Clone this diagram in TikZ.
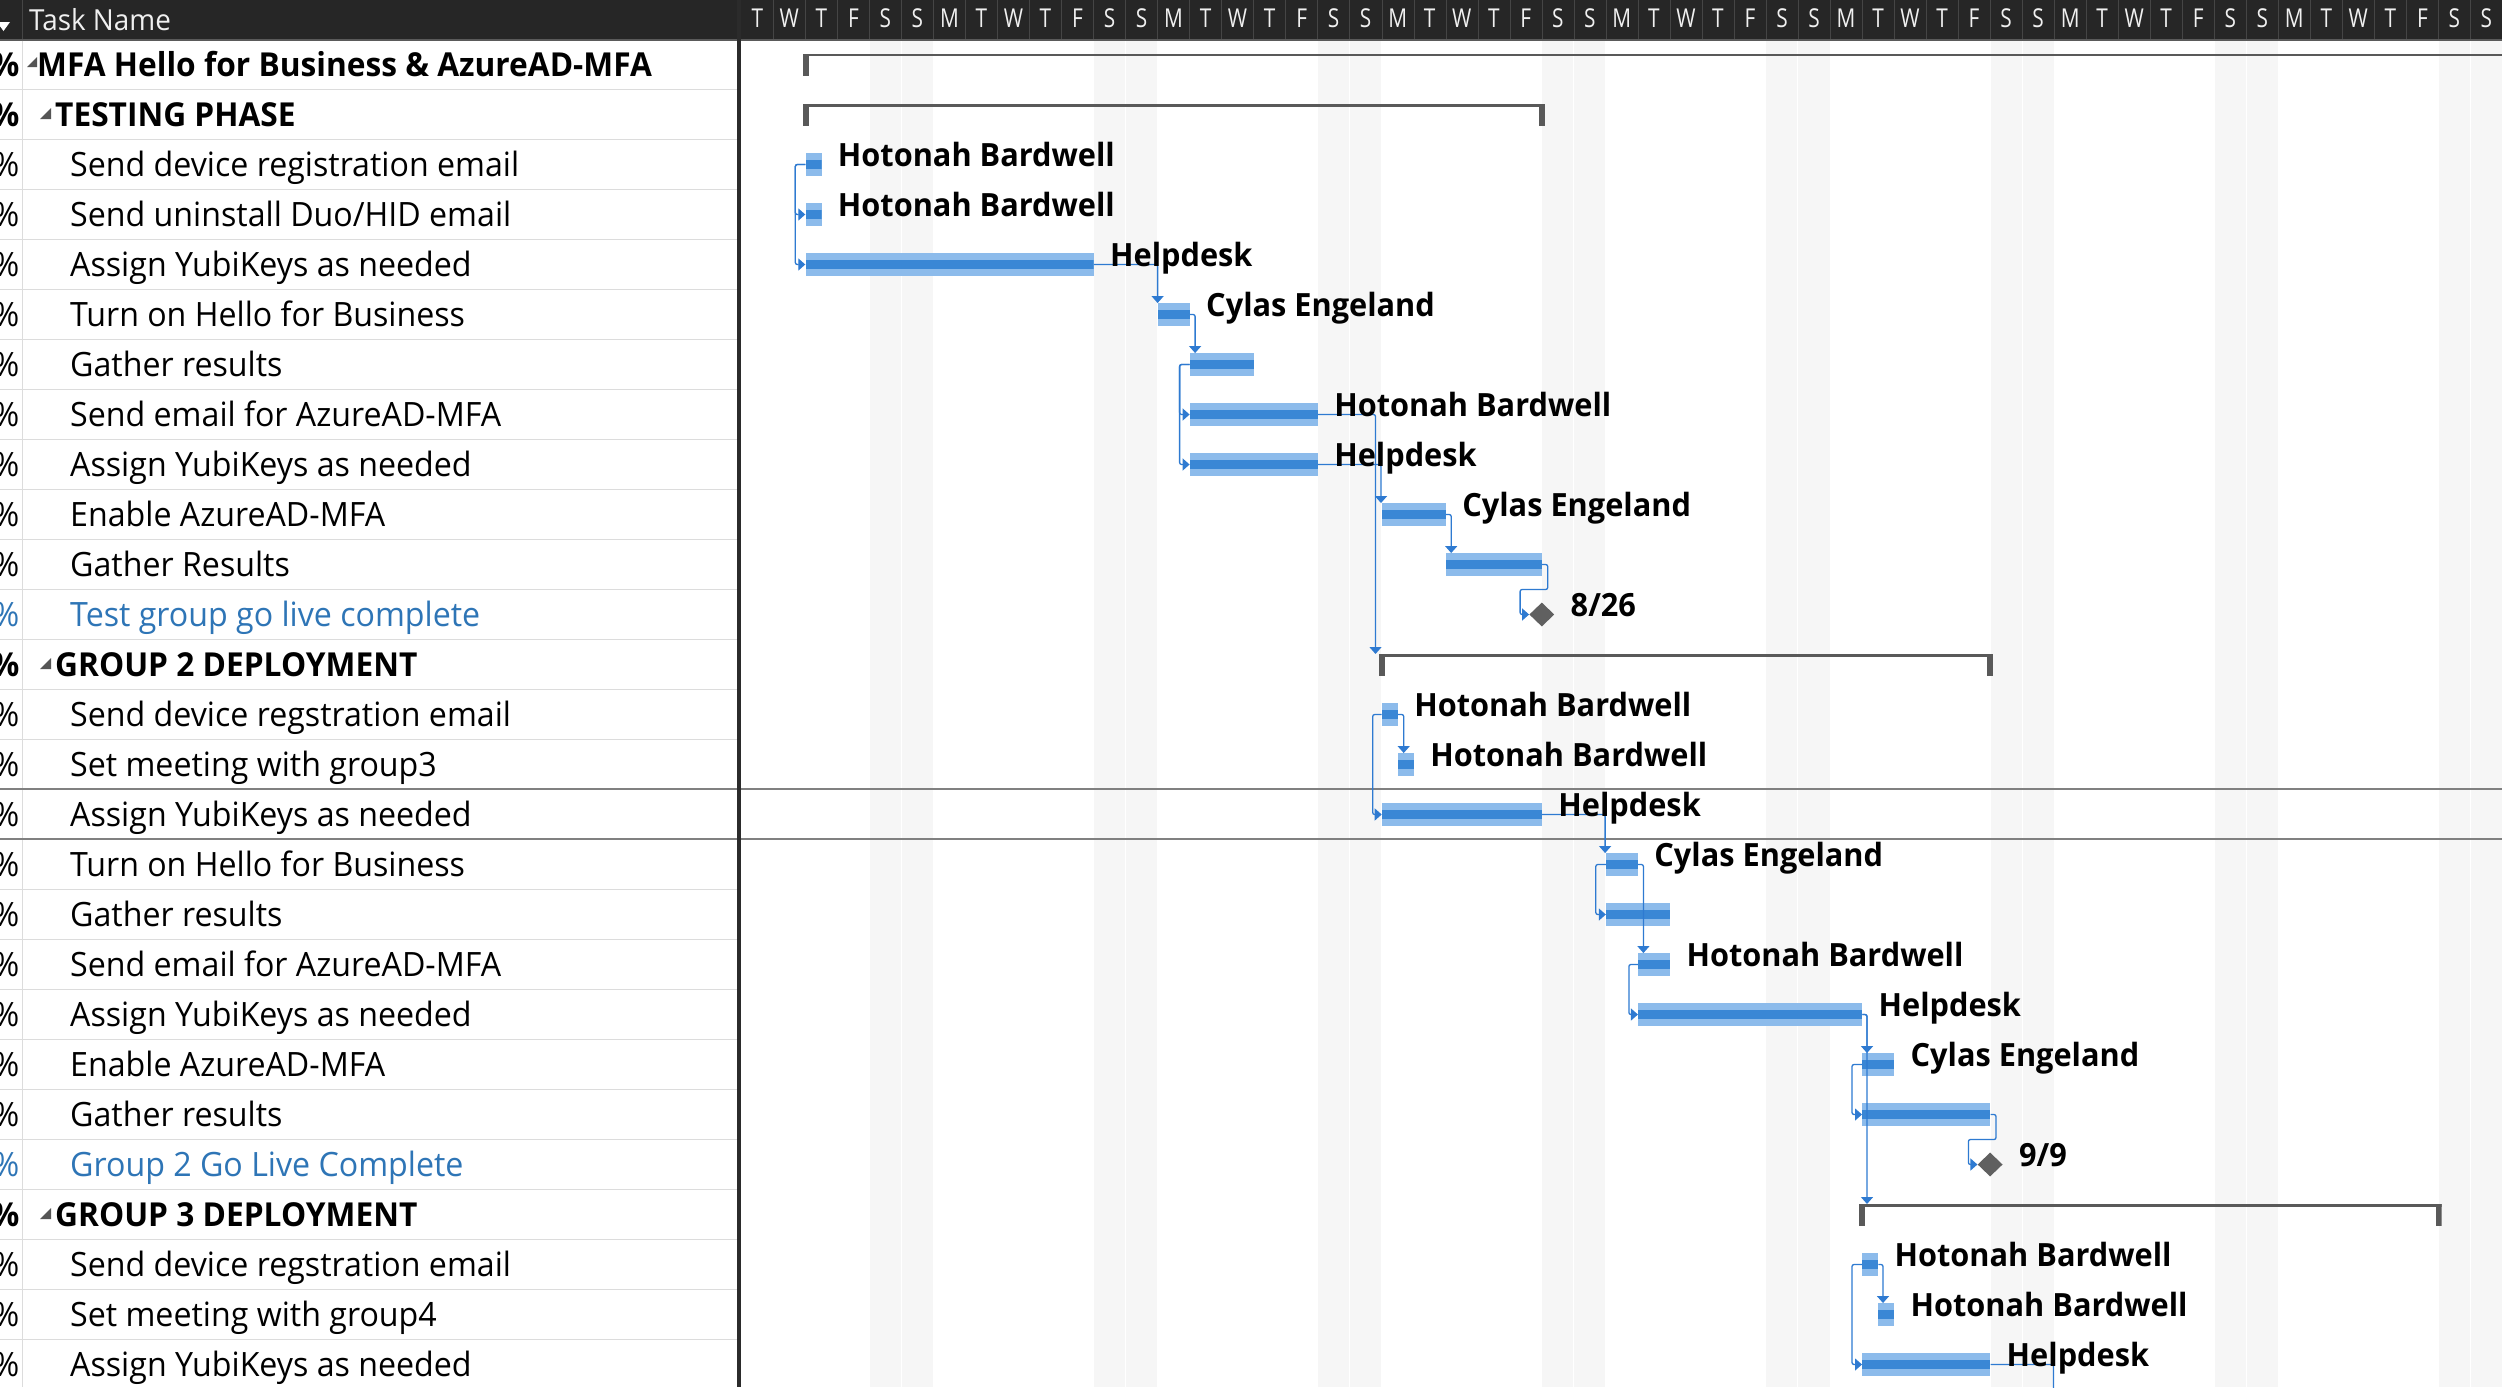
\documentclass[tikz,border=0pt]{standalone}
\usepackage{fontspec}
\setmainfont{Open Sans}[FakeStretch=0.96]
\newfontfamily\hdrfont{Open Sans}[FakeStretch=0.8]
\usetikzlibrary{arrows.meta,shapes.geometric}

\definecolor{hdrbg}{HTML}{262626}
\definecolor{hdrsepc}{HTML}{454545}
\definecolor{hdrlinec}{HTML}{5A5A5A}
\definecolor{wkend}{HTML}{F6F6F6}
\definecolor{barlight}{HTML}{8CBBEB}
\definecolor{bardark}{HTML}{3A87D5}
\definecolor{linkblue}{HTML}{2E7AD1}
\definecolor{sumgray}{HTML}{595959}
\definecolor{msgray}{HTML}{606060}
\definecolor{rowlinec}{HTML}{DCDCDC}
\definecolor{sellinec}{HTML}{808080}
\definecolor{panelsepc}{HTML}{2B2B2B}
\definecolor{msblue}{HTML}{2E75B6}
\definecolor{tric}{HTML}{555555}

\tikzset{
  taskbar/.style={rectangle, anchor=west, inner sep=0pt, minimum height=22.5pt, fill=barlight,
    path picture={\fill[bardark] ([yshift=-4.5pt]path picture bounding box.west) rectangle ([yshift=4.5pt]path picture bounding box.east);}},
  sumbar/.style={rectangle, anchor=north west, inner sep=0pt, minimum height=22pt,
    path picture={
      \fill[sumgray] (path picture bounding box.north west) rectangle ([yshift=-2.5pt]path picture bounding box.north east);
      \fill[sumgray] (path picture bounding box.north west) rectangle ([xshift=6pt]path picture bounding box.south west);
      \fill[sumgray] (path picture bounding box.north east) rectangle ([xshift=-6pt]path picture bounding box.south east);}},
  mstone/.style={diamond, fill=msgray, inner sep=0pt, minimum width=25pt, minimum height=24pt},
  link/.style={draw=linkblue, line width=1.3pt, rounded corners=2pt, -{Triangle[width=12pt,length=7pt]}},
  tasktxt/.style={anchor=base west, inner sep=0pt, font=\fontsize{33.5}{40}\selectfont},
  sumtxt/.style={tasktxt, font=\fontsize{33}{40}\selectfont\bfseries},
  msttxt/.style={tasktxt, text=msblue},
  pct/.style={anchor=base east, inner sep=0pt, font=\fontsize{33.5}{40}\selectfont},
  reslabel/.style={anchor=base west, inner sep=0pt, font=\fontsize{32}{40}\selectfont\bfseries},
  daylbl/.style={anchor=base, inner sep=0pt, text=white!94!black, font=\hdrfont\fontsize{26}{30}\selectfont},
  hdrtxt/.style={anchor=base west, inner sep=0pt, text=white!94!black, font=\fontsize{29}{32}\selectfont}
}

\begin{document}
\begin{tikzpicture}[x=1pt,y=-1pt]
\useasboundingbox (0,0) rectangle (2502,1387);
\fill[white] (0,0) rectangle (2502,1387);

% weekends
\foreach \w in {4,11,...,53}{
  \fill[wkend] ({741.3+32.02*\w+0.5},41) rectangle ({741.3+32.02*(\w+1)-0.5},1387);
  \fill[wkend] ({741.3+32.02*(\w+1)+0.5},41) rectangle ({741.3+32.02*(\w+2)-0.5},1387);
}

% header
\fill[hdrbg] (0,0) rectangle (2502,39);
\fill[hdrlinec] (0,38.5) rectangle (2502,40.5);
\foreach \d in {1,...,54} \draw[hdrsepc] ({741.3+32.02*\d},0) -- ({741.3+32.02*\d},38.5);
\foreach \d in {0,...,54}{
  \pgfmathtruncatemacro\k{mod(\d,7)}
  \node[daylbl] (h\d) at ({741.3+32.02*\d+16},27) {\ifcase\k T\or W\or T\or F\or S\or S\or M\fi};
}
\node[hdrtxt] (hname) at (29,30) {Task Name};
\fill[white] (-3,22) -- (10,22) -- (3.5,31) -- cycle;
\draw[hdrsepc] (22.4,0) -- (22.4,38.5);

% grid of the table
\foreach \r in {0,...,26} \draw[rowlinec] (0,{89+50*\r}) -- (737,{89+50*\r});
\draw[rowlinec] (22.4,40.5) -- (22.4,1387);
\draw[sellinec, line width=1.2pt] (0,789) -- (2502,789);
\draw[sellinec, line width=1.2pt] (0,839) -- (2502,839);

% percent column
\foreach \r in {2,3,4,5,6,7,8,9,10,13,14,15,16,17,18,19,20,21,24,25,26}
  \node[pct] (p\r) at (19.5,{76+50*\r}) {\%};
\foreach \r in {0,1,12,23}
  \node[pct, font=\fontsize{33}{40}\selectfont\bfseries] (p\r) at (19.5,{76+50*\r}) {\%};
\foreach \r in {11,22}
  \node[pct, text=msblue] (p\r) at (19.5,{76+50*\r}) {\%};

% task names
\node[sumtxt] (n0) at (37,76) {MFA Hello for Business \& AzureAD-MFA};
\node[sumtxt] (n1) at (55,126) {TESTING PHASE};
\node[sumtxt] (n12) at (55,676) {GROUP 2 DEPLOYMENT};
\node[sumtxt] (n23) at (55,1226) {GROUP 3 DEPLOYMENT};
\node[msttxt] (n11) at (70,626) {Test group go live complete};
\node[msttxt] (n22) at (70,1176) {Group 2 Go Live Complete};
\foreach \r/\t in {2/Send device registration email, 3/{Send uninstall Duo/HID email},
    4/Assign YubiKeys as needed, 5/Turn on Hello for Business, 6/Gather results,
    7/Send email for AzureAD-MFA, 8/Assign YubiKeys as needed, 9/Enable AzureAD-MFA,
    10/Gather Results, 13/Send device regstration email, 14/Set meeting with group3,
    15/Assign YubiKeys as needed, 16/Turn on Hello for Business, 17/Gather results,
    18/Send email for AzureAD-MFA, 19/Assign YubiKeys as needed, 20/Enable AzureAD-MFA,
    21/Gather results, 24/Send device regstration email, 25/Set meeting with group4,
    26/Assign YubiKeys as needed}
  \node[tasktxt] (n\r) at (70,{76+50*\r}) {\t};
\fill[tric] (37,67) -- (37,57) -- (27,67) -- cycle;
\foreach \c in {114,664,1214} \fill[tric] (51,\c+5) -- (51,\c-6) -- (40,\c+5) -- cycle;

\fill[panelsepc] (737,0) rectangle (741,1387);

% summaries
\node[sumbar, minimum width=1800pt] (s0) at (802.3,53.5) {};
\node[sumbar, minimum width=742.5pt] (s1) at (802.3,104) {};
\node[sumbar, minimum width=614.4pt] (s12) at (1378.7,654) {};
\node[sumbar, minimum width=582.4pt] (s23) at (1859,1204) {};

% bars
\node[taskbar, minimum width=16pt] (t2) at (805.3,164.5) {};
\node[taskbar, minimum width=16pt] (t3) at (805.3,214.5) {};
\node[taskbar, minimum width=288.2pt] (t4) at (805.3,264.5) {};
\node[taskbar, minimum width=32pt] (t5) at (1157.6,314.5) {};
\node[taskbar, minimum width=64pt] (t6) at (1189.6,364.5) {};
\node[taskbar, minimum width=128.1pt] (t7) at (1189.6,414.5) {};
\node[taskbar, minimum width=128.1pt] (t8) at (1189.6,464.5) {};
\node[taskbar, minimum width=64pt] (t9) at (1381.7,514.5) {};
\node[taskbar, minimum width=96.1pt] (t10) at (1445.7,564.5) {};
\node[mstone] (m11) at (1541.8,614.5) {};
\node[taskbar, minimum width=16pt] (t13) at (1381.7,714.5) {};
\node[taskbar, minimum width=16pt] (t14) at (1397.7,764.5) {};
\node[taskbar, minimum width=160.1pt] (t15) at (1381.7,814.5) {};
\node[taskbar, minimum width=32pt] (t16) at (1605.8,864.5) {};
\node[taskbar, minimum width=64.1pt] (t17) at (1605.8,914.5) {};
\node[taskbar, minimum width=32pt] (t18) at (1637.9,964.5) {};
\node[taskbar, minimum width=224.1pt] (t19) at (1637.9,1014.5) {};
\node[taskbar, minimum width=32pt] (t20) at (1862,1064.5) {};
\node[taskbar, minimum width=128.1pt] (t21) at (1862,1114.5) {};
\node[mstone] (m22) at (1990.1,1164.5) {};
\node[taskbar, minimum width=16pt] (t24) at (1862,1264.5) {};
\node[taskbar, minimum width=16pt] (t25) at (1878,1314.5) {};
\node[taskbar, minimum width=128.1pt] (t26) at (1862,1364.5) {};
\coordinate (n27) at (2053.5,1400);

% links
\draw[link] (t2.west) -- ++(-10,0) |- (t3.west);
\draw[link] (t2.west) -- ++(-10,0) |- (t4.west);
\draw[link] (t4.east) -| (t5.north west);
\draw[link] (t5.east) -| ([xshift=5.5pt]t6.north west);
\draw[link] (t6.west) -- ++(-10,0) |- (t7.west);
\draw[link] (t6.west) -- ++(-10,0) |- (t8.west);
\draw[link] (t7.east) -| ([xshift=-3.2pt]s12.north west);
\draw[link] (t8.east) -| ([xshift=-0.7pt]t9.north west);
\draw[link] (t9.east) -| ([xshift=5.5pt]t10.north west);
\draw[link] (t10.east) -- ++(5.5,0) -- ++(0,25) -| ([xshift=-9pt]m11.west) -- (m11.west);
\draw[link] (t13.east) -| ([xshift=6pt]t14.north west);
\draw[link] (t13.west) -- ++(-9,0) |- (t15.west);
\draw[link] (t15.east) -| ([xshift=-0.7pt]t16.north west);
\draw[link] (t16.west) -- ++(-10,0) |- (t17.west);
\draw[link] (t16.east) -| ([xshift=5.5pt]t18.north west);
\draw[link] (t18.west) -- ++(-9,0) |- (t19.west);
\draw[link] (t19.east) -| ([xshift=5pt]t20.north west);
\draw[link] (t19.east) -| ([xshift=8pt]s23.north west);
\draw[link] (t20.west) -- ++(-10,0) |- (t21.west);
\draw[link] (t21.east) -- ++(5.5,0) -- ++(0,25) -| ([xshift=-9pt]m22.west) -- (m22.west);
\draw[link] (t24.east) -| ([xshift=5pt]t25.north west);
\draw[link] (t24.west) -- ++(-10,0) |- (t26.west);
\draw[link] (t26.east) -| (n27);

% resource names
\foreach \b/\who in {t2/Hotonah Bardwell, t3/Hotonah Bardwell, t4/Helpdesk, t5/Cylas Engeland,
    t7/Hotonah Bardwell, t8/Helpdesk, t9/Cylas Engeland, m11/8\slash 26,
    t13/Hotonah Bardwell, t14/Hotonah Bardwell, t15/Helpdesk, t16/Cylas Engeland,
    t18/Hotonah Bardwell, t19/Helpdesk, t20/Cylas Engeland, m22/9\slash 9,
    t24/Hotonah Bardwell, t25/Hotonah Bardwell, t26/Helpdesk}
  \node[reslabel] (l\b) at ([xshift=16pt,yshift=-2pt]\b.east) {\who};
\end{tikzpicture}
\end{document}
